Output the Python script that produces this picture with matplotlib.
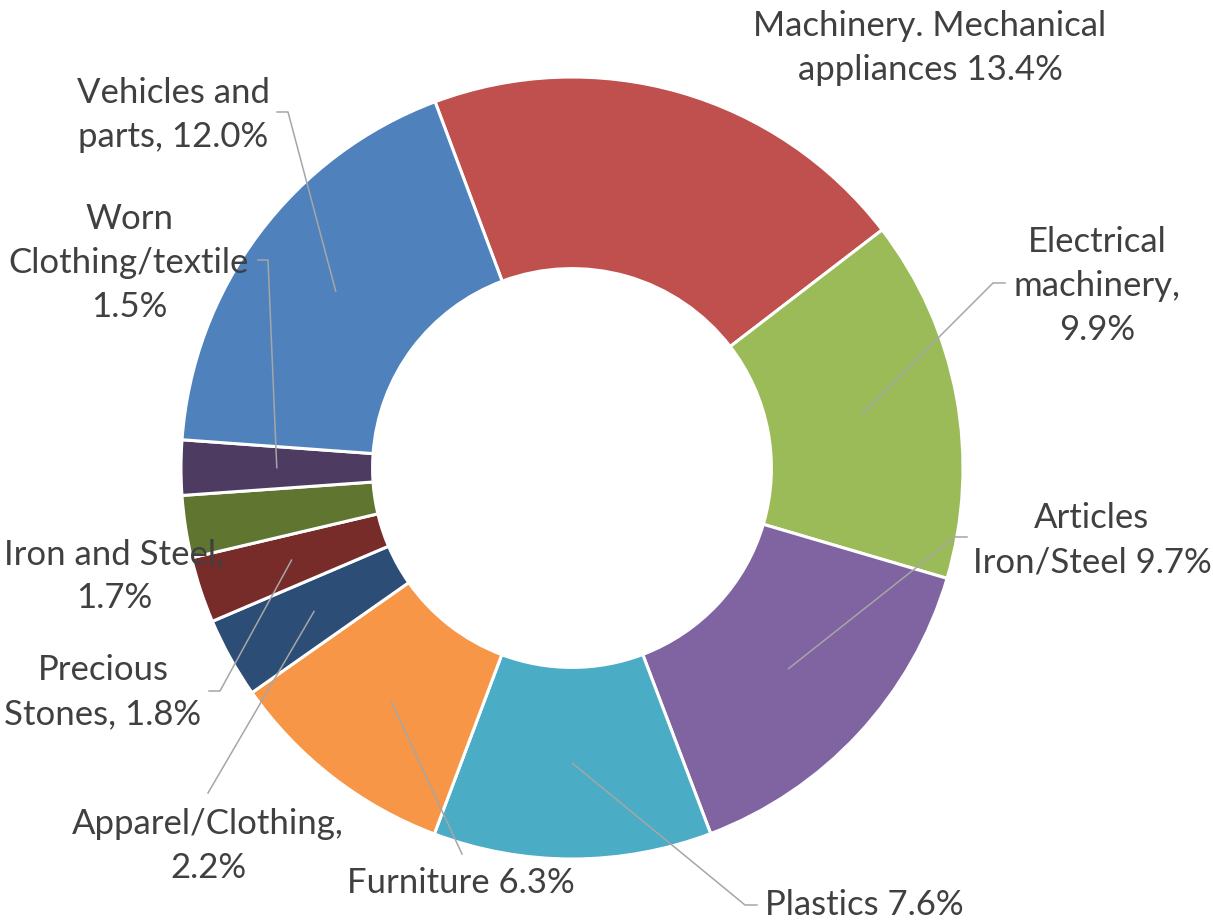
import numpy as np
import matplotlib
matplotlib.use('Agg')
import matplotlib.pyplot as plt

# share of exports (%) by product group
categories = ['Machinery. Mechanical\nappliances', 'Electrical\nmachinery,', 'Articles\nIron/Steel',
              'Plastics', 'Furniture', 'Apparel/Clothing,', 'Precious\nStones,', 'Iron and Steel,',
              'Worn\nClothing/textile', 'Vehicles and\nparts,']
shares = [13.4, 9.9, 9.7, 7.6, 6.3, 2.2, 1.8, 1.7, 1.5, 12.0]
label_texts = ['Machinery. Mechanical\nappliances 13.4%', 'Electrical\nmachinery,\n9.9%',
               'Articles\nIron/Steel 9.7%', 'Plastics 7.6%', 'Furniture 6.3%',
               'Apparel/Clothing,\n2.2%', 'Precious\nStones, 1.8%', 'Iron and Steel,\n1.7%',
               'Worn\nClothing/textile\n1.5%', 'Vehicles and\nparts, 12.0%']

colors = ['#C0504D', '#9BBB59', '#8064A2', '#4BACC6', '#F79646',
          '#2C4D75', '#772C2A', '#5F7530', '#4D3B62', '#4F81BD']

W, H = 1213, 922
CX, CY, R = 572, 468, 391  # pie centre and radius in pixels

# label centres (pixels) and leader-line start points (pixels), None = no leader
label_pos = [(930, 48), (1097, 286), (1092, 540), (864, 905), (461, 883),
             (208, 846), (103, 692), (114, 576), (129, 263), (173, 115)]
leader_pts = [None,
              [(1005, 283), (993, 283)],
              [(967, 537), (955, 537)],
              [(757, 905), (745, 905)],
              [(462, 854)],
              [(208, 793)],
              [(209, 691), (220, 691)],
              None,
              [(258, 260), (268, 260)],
              [(277, 112), (288, 112)]]


def px(x, y):
    return (x - CX) / R, (CY - y) / R


plt.rcParams['font.family'] = ['Lato', 'DejaVu Sans']

fig = plt.figure(figsize=(W / 100, H / 100), dpi=100)
ax = fig.add_axes([0, 0, 1, 1])

wedges, _ = ax.pie(shares, colors=colors, startangle=110.5, counterclock=False, radius=1,
                   wedgeprops=dict(width=0.49, edgecolor='white', linewidth=2.2))

ax.set_xlim(-CX / R, (W - CX) / R)
ax.set_ylim(-(H - CY) / R, CY / R)
ax.set_aspect('equal')
ax.axis('off')

for w, txt, pos, pts in zip(wedges, label_texts, label_pos, leader_pts):
    if pts is not None:
        mid = np.deg2rad((w.theta1 + w.theta2) / 2)
        r_mid = 1 - 0.49 / 2
        xs = [px(*p)[0] for p in pts] + [r_mid * np.cos(mid)]
        ys = [px(*p)[1] for p in pts] + [r_mid * np.sin(mid)]
        ax.plot(xs, ys, color='#A6A6A6', lw=1.1, zorder=3)
    x, y = px(*pos)
    ax.text(x, y, txt, ha='center', va='center', fontsize=25, color='#404040',
            linespacing=1.47, zorder=4)

fig.savefig('out.png', dpi=100, facecolor='white')
